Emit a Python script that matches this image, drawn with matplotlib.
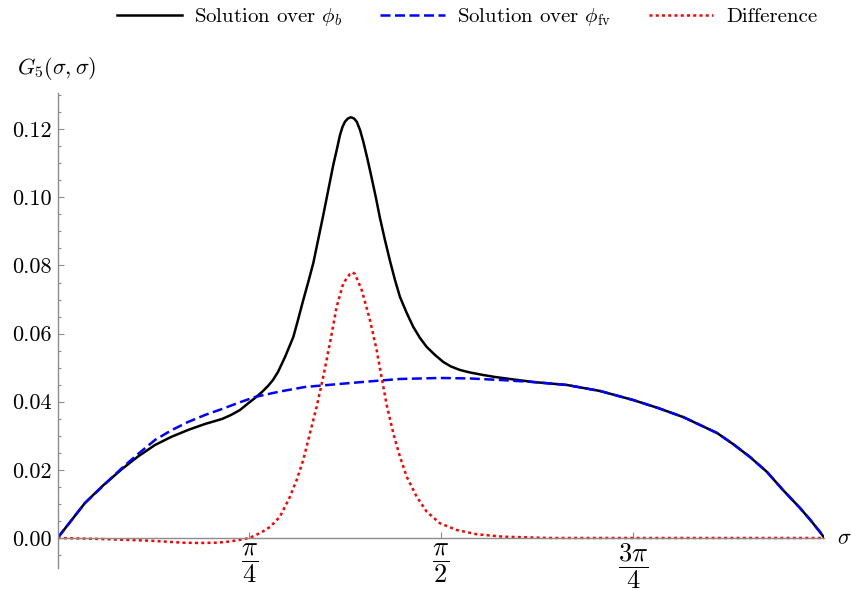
import matplotlib
matplotlib.use("Agg")
import matplotlib.pyplot as plt
import numpy as np
from matplotlib.ticker import MultipleLocator, FormatStrFormatter

plt.rcParams['font.family'] = 'serif'
plt.rcParams['font.serif'] = ['cmr10', 'DejaVu Serif']
plt.rcParams['mathtext.fontset'] = 'cm'
plt.rcParams['axes.formatter.use_mathtext'] = True

# sigma given in units of pi
x_b = [0.0, 0.0357, 0.0592, 0.0840, 0.1049, 0.1270, 0.1479, 0.1701, 0.1922,
       0.2144, 0.2261, 0.2379, 0.2483, 0.2574, 0.2666, 0.2744, 0.2809, 0.2874,
       0.2966, 0.3074, 0.3135, 0.3204, 0.3269, 0.3335, 0.3400, 0.3465, 0.3530,
       0.3595, 0.3640, 0.3683, 0.3715, 0.3748, 0.3787, 0.3826, 0.3865, 0.3901,
       0.3944, 0.3987, 0.4041, 0.4096, 0.4152, 0.4204, 0.4269, 0.4335, 0.4400,
       0.4465, 0.4553, 0.4639, 0.4726, 0.4814, 0.4922, 0.5030, 0.5130, 0.5248,
       0.5378, 0.5548, 0.5704, 0.5900, 0.6200, 0.6643, 0.7074, 0.7504, 0.7830,
       0.8156, 0.8378, 0.8600, 0.8808, 0.9030, 0.9252, 0.9460, 0.9682, 0.9812,
       0.9943, 1.0]
g_b = [0.0, 0.01028, 0.01541, 0.02026, 0.02393, 0.02730, 0.02965, 0.03171,
       0.03347, 0.03494, 0.03611, 0.03758, 0.03949, 0.04110, 0.04287, 0.04463,
       0.04639, 0.04874, 0.05314, 0.05901, 0.06400, 0.06988, 0.07516, 0.08074,
       0.08779, 0.09483, 0.10217, 0.10951, 0.11392, 0.11832, 0.12067, 0.12223,
       0.12317, 0.12352, 0.12317, 0.12223, 0.11979, 0.11635, 0.11127, 0.10570,
       0.09982, 0.09395, 0.08749, 0.08133, 0.07575, 0.07076, 0.06606, 0.06195,
       0.05872, 0.05608, 0.05373, 0.05167, 0.05035, 0.04932, 0.04859, 0.04786,
       0.04727, 0.04668, 0.04580, 0.04492, 0.04316, 0.04052, 0.03817, 0.03553,
       0.03318, 0.03083, 0.02760, 0.02378, 0.01938, 0.01409, 0.00881, 0.00543,
       0.00176, 0.0]

x_fv = [0.0, 0.0357, 0.0592, 0.0840, 0.1049, 0.1270, 0.1479, 0.1701, 0.1922,
        0.2144, 0.2353, 0.2574, 0.2900, 0.3226, 0.3526, 0.3826, 0.4139, 0.4465,
        0.4726, 0.4987, 0.5378, 0.5769, 0.6200, 0.6643, 0.7074, 0.7504, 0.7830,
        0.8156, 0.8378, 0.8600, 0.8808, 0.9030, 0.9252, 0.9460, 0.9682, 0.9812,
        0.9943, 1.0]
g_fv = [0.0, 0.01028, 0.01527, 0.02055, 0.02466, 0.02877, 0.03156, 0.03406,
        0.03611, 0.03787, 0.03964, 0.04140, 0.04301, 0.04433, 0.04492, 0.04551,
        0.04610, 0.04668, 0.04683, 0.04698, 0.04683, 0.04639, 0.04580, 0.04492,
        0.04316, 0.04052, 0.03817, 0.03553, 0.03318, 0.03083, 0.02760, 0.02378,
        0.01938, 0.01409, 0.00881, 0.00543, 0.00176, 0.0]

x_diff = [0.0, 0.0553, 0.1205, 0.1635, 0.1857, 0.2079, 0.2248, 0.2418, 0.2500,
          0.2574, 0.2666, 0.2770, 0.2900, 0.3031, 0.3118, 0.3204, 0.3269, 0.3335,
          0.3379, 0.3465, 0.3552, 0.3640, 0.3726, 0.3813, 0.3846, 0.3878, 0.3966,
          0.4074, 0.4161, 0.4248, 0.4292, 0.4378, 0.4465, 0.4553, 0.4683, 0.4814,
          0.4987, 0.5205, 0.5466, 0.5812, 0.6421, 1.0]
g_diff = [0.0, -0.00029, -0.00079, -0.00138, -0.00147, -0.00138, -0.00103,
          -0.00038, 0.0, 0.00073, 0.00176, 0.00323, 0.00625, 0.01213, 0.01703,
          0.02290, 0.02877, 0.03464, 0.03855, 0.04736, 0.05725, 0.06791, 0.07478,
          0.07751, 0.07800, 0.07751, 0.07281, 0.06400, 0.05520, 0.04442, 0.03905,
          0.03074, 0.02387, 0.01800, 0.01213, 0.00772, 0.00432, 0.00235, 0.00109,
          0.00038, 0.0, 0.0]

xtick_vals = [0.25, 0.5, 0.75]
xtick_labels = [r'$\dfrac{\pi}{4}$', r'$\dfrac{\pi}{2}$', r'$\dfrac{3\pi}{4}$']

fig = plt.figure(figsize=(8.51, 5.90), dpi=100)
ax = fig.add_axes([0.0677, 0.0373, 0.9010, 0.8046])

ax.plot(np.array(x_b) * np.pi, g_b, color='black', lw=1.8,
        label=r'Solution over $\phi_b$')
ax.plot(np.array(x_fv) * np.pi, g_fv, color=(0, 0, 1), lw=1.8,
        dashes=(4.0, 1.8), label=r'Solution over $\phi_{\rm fv}$')
ax.plot(np.array(x_diff) * np.pi, g_diff, color=(1, 0, 0), lw=1.8,
        dashes=(1.2, 1.3), label='Difference')

ax.set_xlim(0, np.pi)
ax.set_ylim(-0.00881, 0.13056)

for s in ['top', 'right']:
    ax.spines[s].set_visible(False)
ax.spines['bottom'].set_position(('data', 0))
for s in ['left', 'bottom']:
    ax.spines[s].set_color('#8c8c8c')
    ax.spines[s].set_linewidth(1.0)

ax.set_xticks([v * np.pi for v in xtick_vals])
ax.set_xticklabels(xtick_labels)
ax.yaxis.set_major_locator(MultipleLocator(0.02))
ax.yaxis.set_minor_locator(MultipleLocator(0.005))
ax.yaxis.set_major_formatter(FormatStrFormatter('%.2f'))
ax.tick_params(axis='x', direction='in', length=4, width=0.8, color='#8c8c8c',
               labelsize=19, pad=3)
ax.tick_params(axis='y', which='major', direction='in', length=4, width=0.8,
               color='#8c8c8c', labelsize=16, pad=4)
ax.tick_params(axis='y', which='minor', direction='in', length=2, width=0.8,
               color='#8c8c8c')

ax.annotate(r'$\sigma$', xy=(np.pi, 0), xytext=(9, 0), textcoords='offset points',
            ha='left', va='center', fontsize=16, annotation_clip=False)
fig.text(57 / 851, 1 - 68 / 590, r'$G_5(\sigma,\sigma)$', ha='center',
         va='center', fontsize=16)

fig.legend(loc='center', bbox_to_anchor=(0.549, 0.971), ncol=3, frameon=False,
           fontsize=15, handlelength=3.1, handletextpad=0.6, columnspacing=1.8)

fig.savefig('out.png', dpi=100)
